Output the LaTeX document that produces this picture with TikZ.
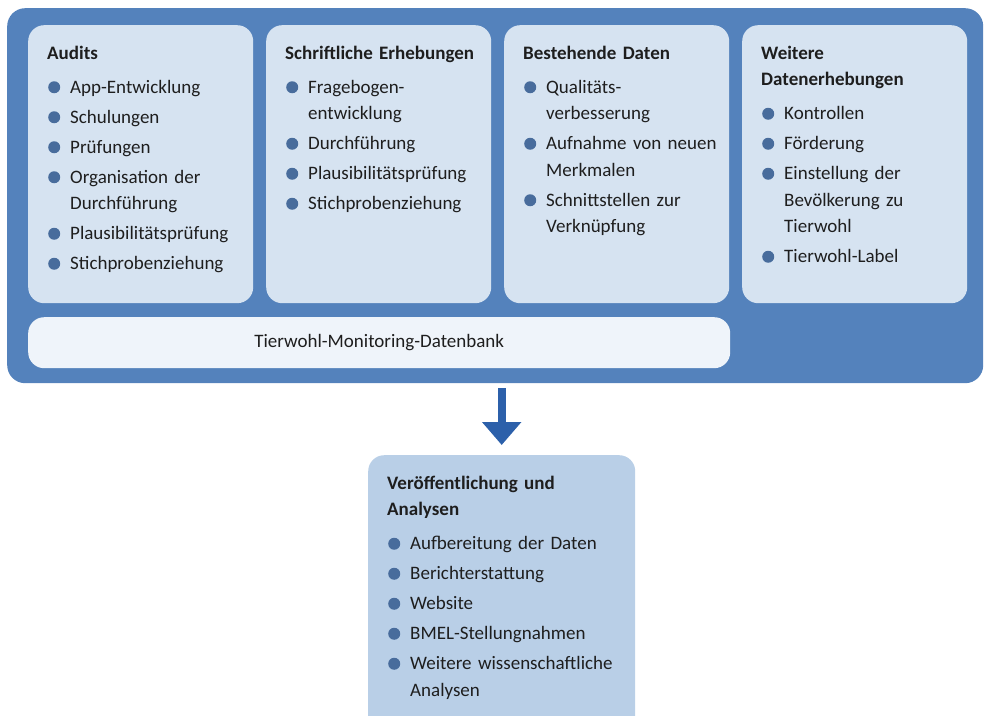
\documentclass[tikz,border=0pt]{standalone}
\usepackage{fontspec}
\setmainfont{Carlito}
\usepackage{tikz}
\usetikzlibrary{arrows.meta}

\definecolor{rahmenblau}{RGB}{84,130,188}
\definecolor{spaltenblau}{RGB}{214,227,241}
\definecolor{bankblau}{RGB}{239,244,250}
\definecolor{zielblau}{RGB}{185,207,231}
\definecolor{punktblau}{RGB}{72,108,156}
\definecolor{pfeilblau}{RGB}{44,96,170}
\definecolor{schrift}{RGB}{30,30,30}

\newcommand{\bpt}{\tikz[baseline=-6pt]\fill[punktblau] (0pt,0pt) circle (6pt);}
\newcommand{\pkt}[1]{\par\hangindent=23pt\hangafter=1\noindent\makebox[23pt][l]{\hspace{1pt}\bpt}#1\par}
\newcommand{\titel}[1]{\noindent\strut\textbf{#1}\par\vspace{4pt}}

\begin{document}
\begin{tikzpicture}[x=1pt,y=-1pt,
    every node/.style={text=schrift, font=\fontsize{19}{26.5}\selectfont\setlength{\parskip}{3.5pt}},
    rahmen/.style={anchor=north west, inner sep=0pt, rounded corners=18pt, fill=rahmenblau,
      minimum width=976, minimum height=375},
    kasten/.style={anchor=north west, inner sep=0pt, rounded corners=16pt, fill=spaltenblau,
      minimum width=225, minimum height=278},
    bank/.style={anchor=north west, inner sep=0pt, rounded corners=16pt, fill=bankblau,
      minimum width=702, minimum height=51},
    ziel/.style={anchor=north west, inner sep=0pt, rounded corners=16pt, fill=zielblau,
      minimum width=267, minimum height=280},
    inhalt/.style={anchor=north west, inner sep=0pt, text width=200, align=left},
    pfeil/.style={draw=pfeilblau, line width=8pt, -{Triangle[width=38pt,length=23pt]},
      shorten <=5pt, shorten >=10pt}]
  \useasboundingbox (0,0) rectangle (984,715);

  \node[rahmen] (rahmen) at (7,8) {};
  \node[kasten] (audits) at (28,25) {};
  \node[kasten] (schriftlich) at (266,25) {};
  \node[kasten] (bestand) at (504,25) {};
  \node[kasten] (weitere) at (742,25) {};
  \node[bank] (bank) at (28,317) {Tierwohl-Monitoring-Datenbank};
  \node[ziel] (ziel) at (368,455) {};

  \node[inhalt] (audits-text) at (47,40.5) {\titel{Audits}
    \pkt{App-Entwicklung}
    \pkt{Schulungen}
    \pkt{Prüfungen}
    \pkt{Organisation der\newline Durchführung}
    \pkt{Plausibilitätsprüfung}
    \pkt{Stichprobenziehung}};
  \node[inhalt] (schriftlich-text) at (285,40.5) {\titel{Schriftliche Erhebungen}
    \pkt{Fragebogen-\newline entwicklung}
    \pkt{Durchführung}
    \pkt{Plausibilitätsprüfung}
    \pkt{Stichprobenziehung}};
  \node[inhalt] (bestand-text) at (523,40.5) {\titel{Bestehende Daten}
    \pkt{Qualitäts-\newline verbesserung}
    \pkt{Aufnahme von neuen\newline Merkmalen}
    \pkt{Schnittstellen zur\newline Verknüpfung}};
  \node[inhalt] (weitere-text) at (761,40.5) {\titel{Weitere\newline Datenerhebungen}
    \pkt{Kontrollen}
    \pkt{Förderung}
    \pkt{Einstellung der\newline Bevölkerung zu\newline Tierwohl}
    \pkt{Tierwohl-Label}};
  \node[inhalt, text width=240] (ziel-text) at (387,470.5) {\titel{Veröffentlichung und\newline Analysen}
    \pkt{Aufbereitung der Daten}
    \pkt{Berichterstattung}
    \pkt{Website}
    \pkt{BMEL-Stellungnahmen}
    \pkt{Weitere wissenschaftliche\newline Analysen}};

  \draw[pfeil] (rahmen.south -| ziel.north) -- (ziel.north);
\end{tikzpicture}
\end{document}
